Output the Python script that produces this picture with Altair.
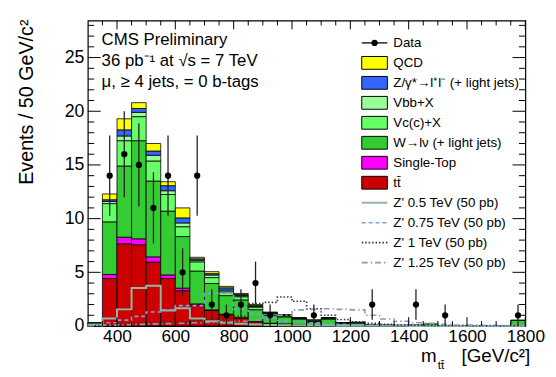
import altair as alt
import pandas as pd
import numpy as np

# ---------------- data ----------------
bin_lo = list(range(300, 1800, 50))          # 30 bins of 50 GeV
bin_width = 50

ttbar   = [0.02, 4.42, 7.66, 7.57, 5.95, 4.42, 3.29, 1.97, 1.45, 1.05, 0.75, 0.40, 0.25, 0.20, 0.10,
           0.05, 0.05, 0.03, 0.03, 0.01, 0.00, 0.00, 0.00, 0.01, 0.00, 0.00, 0.00, 0.00, 0.00, 0.02]
stop    = [0.00, 0.38, 0.61, 0.55, 0.49, 0.34, 0.24, 0.09, 0.05, 0.05, 0.03, 0.02, 0.01, 0.00, 0.00,
           0.00, 0.00, 0.00, 0.00, 0.00, 0.00, 0.00, 0.00, 0.00, 0.00, 0.00, 0.00, 0.00, 0.00, 0.00]
wjets   = [0.28, 4.90, 6.63, 9.14, 7.06, 5.94, 4.80, 3.06, 2.46, 1.73, 1.65, 1.10, 0.75, 0.65, 0.55,
           0.30, 0.60, 0.20, 0.25, 0.12, 0.08, 0.08, 0.10, 0.20, 0.04, 0.02, 0.02, 0.02, 0.02, 0.50]
vcx     = [0.02, 1.70, 2.36, 2.24, 1.87, 1.55, 0.92, 0.86, 0.55, 0.36, 0.30, 0.25, 0.15, 0.10, 0.08,
           0.05, 0.08, 0.05, 0.05, 0.02, 0.01, 0.00, 0.00, 0.00, 0.00, 0.00, 0.00, 0.00, 0.00, 0.03]
vbbx    = [0.00, 0.20, 0.44, 0.40, 0.53, 0.35, 0.35, 0.15, 0.24, 0.16, 0.10, 0.07, 0.05, 0.04, 0.02,
           0.03, 0.03, 0.01, 0.02, 0.00, 0.00, 0.00, 0.00, 0.00, 0.00, 0.00, 0.00, 0.00, 0.00, 0.00]
zjets   = [0.00, 0.16, 0.57, 0.36, 0.40, 0.47, 0.47, 0.13, 0.13, 0.21, 0.10, 0.06, 0.04, 0.03, 0.02,
           0.10, 0.02, 0.01, 0.00, 0.00, 0.00, 0.00, 0.00, 0.00, 0.00, 0.00, 0.00, 0.00, 0.00, 0.00]
qcd     = [0.00, 0.54, 1.03, 0.54, 0.70, 0.37, 0.93, 0.14, 0.18, 0.13, 0.10, 0.10, 0.05, 0.03, 0.00,
           0.05, 0.00, 0.00, 0.00, 0.00, 0.00, 0.00, 0.00, 0.00, 0.00, 0.00, 0.00, 0.00, 0.00, 0.00]

data_counts = [0, 14, 16, 15, 11, 14, 5, 14, 2, 1, 2, 4, 1, 0, 0,
               1, 0, 0, 0, 2, 0, 0, 2, 0, 1, 0, 0, 0, 0, 1]

zp050 = [0.10, 0.70, 1.55, 3.55, 3.75, 1.45, 1.65, 0.70, 0.45, 0.30, 0.22, 0.15, 0.10, 0.08, 0.06,
         0.05, 0.04, 0.03, 0.03, 0.02, 0.02, 0.02, 0.01, 0.01, 0.01, 0.01, 0.01, 0.01, 0.01, 0.01]
zp075 = [0.10, 0.30, 0.55, 0.90, 1.30, 1.50, 1.90, 1.90, 3.05, 3.05, 1.55, 1.15, 0.75, 0.50, 0.40,
         0.30, 0.20, 0.15, 0.10, 0.08, 0.06, 0.05, 0.04, 0.03, 0.02, 0.02, 0.02, 0.02, 0.01, 0.01]
zp100 = [0.05, 0.15, 0.20, 0.25, 0.30, 0.35, 0.40, 0.50, 0.60, 0.70, 0.90, 2.10, 2.20, 2.70, 2.30,
         1.60, 1.00, 0.60, 0.40, 0.25, 0.15, 0.10, 0.08, 0.06, 0.05, 0.04, 0.03, 0.03, 0.02, 0.02]
zp125 = [0.03, 0.08, 0.12, 0.15, 0.20, 0.22, 0.25, 0.30, 0.35, 0.40, 0.45, 0.55, 0.70, 1.00, 1.50,
         1.55, 1.60, 1.55, 1.50, 1.00, 0.65, 0.45, 0.30, 0.25, 0.15, 0.10, 0.08, 0.06, 0.05, 0.04]

proc_labels = ["tt̄", "Single-Top", "W→lν (+ light jets)", "Vc(c)+X", "Vbb+X",
               "Z/γ*→l⁺l⁻ (+ light jets)", "QCD"]
proc_values = [ttbar, stop, wjets, vcx, vbbx, zjets, qcd]
proc_colors = ["#cc0000", "#ff00ff", "#33cc33", "#66ff66", "#99ff99", "#3366ff", "#ffff00"]

zp_labels = ["Z' 0.5 TeV (50 pb)", "Z' 0.75 TeV (50 pb)", "Z' 1 TeV (50 pb)", "Z' 1.25 TeV (50 pb)"]
zp_values = [zp050, zp075, zp100, zp125]
zp_colors = ["#8fb8a0", "#7f9fd8", "#333333", "#8a9bb2"]
zp_dash = [[1, 0], [4, 3], [1.5, 2], [6, 3, 1.5, 3]]
zp_width = [2, 1.6, 1.6, 1.6]

header_lines = ["CMS Preliminary", "36 pb⁻¹ at √s = 7 TeV", "μ, ≥ 4 jets, = 0 b-tags"]
x_tick_labels = [400, 600, 800, 1000, 1200, 1400, 1600, 1800]
y_tick_labels = [0, 5, 10, 15, 20, 25]

# ---------------- layout ----------------
W, H = 444, 310
XMIN, XMAX = 300, 1800
YMAX = 28.45
FONT = "Liberation Sans"

xs = alt.Scale(domain=[XMIN, XMAX], nice=False, zero=False)
ys = alt.Scale(domain=[0, YMAX], nice=False, zero=True)

# stacked rectangles
rows = []
for i, lo in enumerate(bin_lo):
    base = 0.0
    for name, vals in zip(proc_labels, proc_values):
        v = vals[i]
        if v > 0:
            rows.append({"lo": lo, "hi": lo + bin_width, "y0": base, "y1": base + v, "proc": name})
        base += v
rect_df = pd.DataFrame(rows)

stack = alt.Chart(rect_df).mark_rect(stroke="black", strokeWidth=0.8).encode(
    x=alt.X("lo:Q", scale=xs,
            axis=alt.Axis(values=x_tick_labels, format="d", ticks=False, domain=False, grid=False,
                          labelFontSize=17.5, labelPadding=2, labelOverlap=False, labelFlush=False, title=None)),
    x2="hi:Q",
    y=alt.Y("y0:Q", scale=ys,
            axis=alt.Axis(values=y_tick_labels, format="d", ticks=False, domain=False, grid=False,
                          labelFontSize=18, labelPadding=4, labelOverlap=False, labelFlush=False, title=None)),
    y2="y1:Q",
    color=alt.Color("proc:N", scale=alt.Scale(domain=proc_labels, range=proc_colors), legend=None),
)

# Z' step lines
zp_layers = []
for lab, vals, col, dash, sw in zip(zp_labels, zp_values, zp_colors, zp_dash, zp_width):
    xs_pts = bin_lo + [XMAX]
    ys_pts = vals + [vals[-1]]
    df = pd.DataFrame({"x": xs_pts, "v": ys_pts})
    zp_layers.append(
        alt.Chart(df).mark_line(interpolate="step-after", color=col, strokeDash=dash, strokeWidth=sw).encode(
            x=alt.X("x:Q", scale=xs), y=alt.Y("v:Q", scale=ys))
    )

# data points
centers = [lo + bin_width / 2 for lo in bin_lo]
ddf = pd.DataFrame({"c": centers, "n": data_counts})
ddf = ddf[ddf["n"] > 0].copy()
ddf["elo"] = ddf["n"] - np.sqrt(ddf["n"])
ddf["ehi"] = ddf["n"] + np.sqrt(ddf["n"])
err = alt.Chart(ddf).mark_rule(color="#222222", strokeWidth=1.3).encode(
    x=alt.X("c:Q", scale=xs), y=alt.Y("elo:Q", scale=ys), y2="ehi:Q")
pts = alt.Chart(ddf).mark_circle(size=40, color="black", opacity=1).encode(
    x=alt.X("c:Q", scale=xs), y=alt.Y("n:Q", scale=ys))

# inward ticks on all four sides
x_major = x_tick_labels
x_minor = [v for v in range(XMIN + 50, XMAX, 50) if v not in x_major]
y_major = [5, 10, 15, 20, 25]
y_minor = [v for v in range(1, 29) if v % 5 != 0]


def xticks(vals, length):
    df = pd.DataFrame({"v": vals})
    b = alt.Chart(df).mark_rule(color="black", strokeWidth=1).encode(
        x=alt.X("v:Q", scale=xs), y=alt.value(H), y2=alt.value(H - length))
    t = alt.Chart(df).mark_rule(color="black", strokeWidth=1).encode(
        x=alt.X("v:Q", scale=xs), y=alt.value(0), y2=alt.value(length))
    return [b, t]


def yticks(vals, length):
    df = pd.DataFrame({"v": vals})
    l = alt.Chart(df).mark_rule(color="black", strokeWidth=1).encode(
        y=alt.Y("v:Q", scale=ys), x=alt.value(0), x2=alt.value(length))
    r = alt.Chart(df).mark_rule(color="black", strokeWidth=1).encode(
        y=alt.Y("v:Q", scale=ys), x=alt.value(W), x2=alt.value(W - length))
    return [l, r]


tick_layers = xticks(x_major, 9) + xticks(x_minor, 5) + yticks(y_major, 13) + yticks(y_minor, 6.5)

# legend (pixel positions, computed)
LX0, LX1, LTX = 278, 304, 310
ROW0, DROW = 22.7, 20.27
legend_order = ["Data", "QCD", "Z/γ*→l⁺l⁻ (+ light jets)", "Vbb+X", "Vc(c)+X",
                "W→lν (+ light jets)", "Single-Top", "tt̄"] + zp_labels
row_y = {lab: ROW0 + DROW * i for i, lab in enumerate(legend_order)}

sw_rows = []
for lab, col in zip(proc_labels, proc_colors):
    yc = row_y[lab]
    sw_rows.append({"x0": LX0, "x1": LX1, "y0": yc - 6.5, "y1": yc + 6.5, "col": col})
sw_df = pd.DataFrame(sw_rows)
swatches = alt.Chart(sw_df).mark_rect(stroke="black", strokeWidth=1).encode(
    x=alt.X("x0:Q", scale=None), x2="x1:Q", y=alt.Y("y0:Q", scale=None), y2="y1:Q",
    color=alt.Color("col:N", scale=None))

leg_layers = [swatches]
dline = pd.DataFrame({"x0": [LX0], "x1": [LX1], "y": [row_y["Data"]], "xc": [(LX0 + LX1) / 2]})
leg_layers.append(alt.Chart(dline).mark_rule(color="black", strokeWidth=1.3).encode(
    x=alt.X("x0:Q", scale=None), x2="x1:Q", y=alt.Y("y:Q", scale=None)))
leg_layers.append(alt.Chart(dline).mark_circle(size=40, color="black", opacity=1).encode(
    x=alt.X("xc:Q", scale=None), y=alt.Y("y:Q", scale=None)))
for lab, col, dash, sw in zip(zp_labels, zp_colors, zp_dash, zp_width):
    df = pd.DataFrame({"x0": [LX0], "x1": [LX1], "y": [row_y[lab]]})
    leg_layers.append(alt.Chart(df).mark_rule(color=col, strokeDash=dash, strokeWidth=sw).encode(
        x=alt.X("x0:Q", scale=None), x2="x1:Q", y=alt.Y("y:Q", scale=None)))
txt_df = pd.DataFrame({"label": legend_order, "x": [LTX] * len(legend_order),
                       "y": [row_y[l] for l in legend_order]})
leg_layers.append(alt.Chart(txt_df).mark_text(align="left", baseline="middle", fontSize=13.5,
                                               font=FONT, color="black").encode(
    x=alt.X("x:Q", scale=None), y=alt.Y("y:Q", scale=None), text="label:N"))

# header text
hdr_df = pd.DataFrame({"label": header_lines, "x": [14] * 3, "y": [25, 46, 67]})
header = alt.Chart(hdr_df).mark_text(align="left", baseline="alphabetic", fontSize=17,
                                     font=FONT, color="black").encode(
    x=alt.X("x:Q", scale=None), y=alt.Y("y:Q", scale=None), text="label:N")

# axis titles
one = pd.DataFrame({"a": [0]})
ytitle = alt.Chart(one).mark_text(text="Events / 50 GeV/c²", angle=270, align="right", baseline="middle",
                                  fontSize=20, font=FONT, color="black").encode(
    x=alt.value(-62), y=alt.value(-1))
xt_m = alt.Chart(one).mark_text(text="m", align="left", baseline="alphabetic", fontSize=19,
                                font=FONT, color="black").encode(x=alt.value(338), y=alt.value(347))
xt_sub = alt.Chart(one).mark_text(text="tt̄", align="left", baseline="alphabetic", fontSize=12,
                                  font=FONT, color="black").encode(x=alt.value(355), y=alt.value(354))
xt_unit = alt.Chart(one).mark_text(text="[GeV/c²]", align="right", baseline="alphabetic", fontSize=19,
                                   font=FONT, color="black").encode(x=alt.value(449), y=alt.value(347))

chart = alt.layer(
    stack, *zp_layers, err, pts, *tick_layers, *leg_layers, header, ytitle, xt_m, xt_sub, xt_unit
).properties(
    width=W, height=H,
    padding={"left": 81, "top": 10, "right": 23, "bottom": 47},
    autosize=alt.AutoSizeParams(type="none"),
).configure_view(
    stroke="black", strokeWidth=1.2
).configure_axis(
    labelFont=FONT, labelColor="black"
)

chart.save("out.html", embed_options={"renderer": "svg", "actions": False})
